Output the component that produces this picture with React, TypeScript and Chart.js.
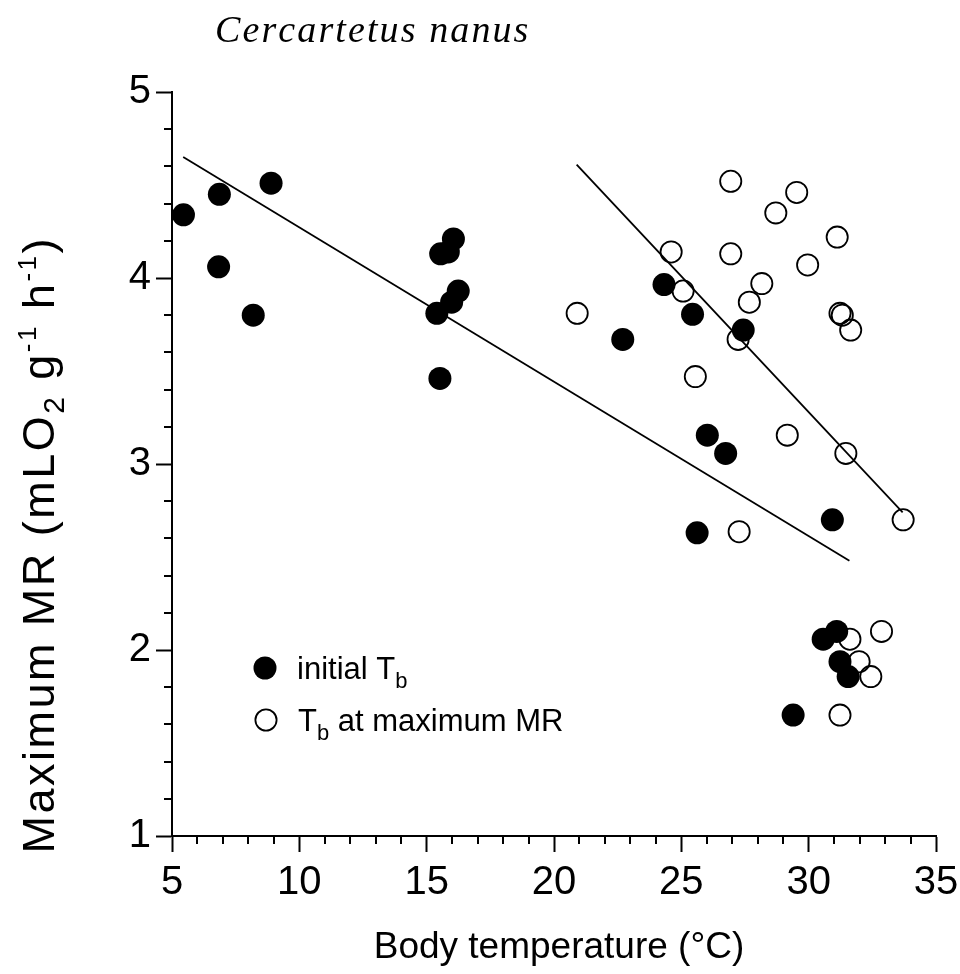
import { useEffect, useRef } from "react";
import { Chart, registerables } from "chart.js";

Chart.register(...registerables);

// Initial body temperature (°C) and maximum metabolic rate (mL O2 g-1 h-1)
const initialTb = [
  5.45, 6.86, 8.89, 6.83, 8.19, 15.55, 15.85, 16.05, 15.4, 15.98, 16.24, 15.52,
  24.32, 25.44, 22.7, 27.43, 26.02, 26.74, 25.62, 30.93, 30.57, 31.1, 31.23, 31.55, 29.39,
];
const initialMR = [
  4.34, 4.45, 4.51, 4.06, 3.8, 4.13, 4.14, 4.21, 3.81, 3.87, 3.93, 3.46,
  3.965, 3.805, 3.67, 3.72, 3.155, 3.057, 2.63, 2.7, 2.058, 2.1, 1.937, 1.857, 1.65,
];

// Body temperature reached at maximum MR
const maxMrTb = [
  26.94, 29.53, 28.71, 31.12, 24.6, 26.94, 29.96, 28.16, 25.07, 27.67, 20.91, 31.23,
  31.32, 31.65, 27.23, 25.55, 29.16, 31.46, 27.27, 33.71, 31.62, 32.86, 31.98, 32.44, 31.23,
];
const maxMrMR = [
  4.52, 4.46, 4.35, 4.22, 4.14, 4.13, 4.07, 3.97, 3.93, 3.87, 3.81, 3.81,
  3.8, 3.72, 3.67, 3.47, 3.155, 3.057, 2.636, 2.7, 2.058, 2.1, 1.937, 1.857, 1.65,
];

// Fitted regression lines (end points)
const fitInitialTb = [5.44, 31.6];
const fitInitialMR = [4.65, 2.48];
const fitMaxTb = [20.89, 33.69];
const fitMaxMR = [4.61, 2.74];

// Axis ranges and tick steps
const xRange = [5, 35];
const yRange = [1, 5];
const xMajorStep = 5;
const xMinorStep = 1;
const yMajorStep = 1;
const yMinorStep = 0.2;

const SANS = '"Liberation Sans", Arial, Helvetica, sans-serif';
const SERIF = '"Liberation Serif", "Times New Roman", serif';

type Seg = { text: string; size: number; dy: number };

function segWidth(ctx: CanvasRenderingContext2D, segs: Seg[]) {
  let w = 0;
  for (const s of segs) {
    ctx.font = `${s.size}px ${SANS}`;
    w += ctx.measureText(s.text).width;
  }
  return w;
}

function countChars(segs: Seg[]) {
  return segs.reduce((n, s) => n + s.text.length, 0);
}

function drawSegs(ctx: CanvasRenderingContext2D, segs: Seg[], x: number, y: number, spacing: number) {
  let cx = x;
  for (const s of segs) {
    ctx.font = `${s.size}px ${SANS}`;
    for (const ch of s.text) {
      ctx.fillText(ch, cx, y + s.dy);
      cx += ctx.measureText(ch).width + spacing;
    }
  }
}

const decor = {
  id: "decor",
  afterDraw(chart: any) {
    const { ctx, chartArea, scales } = chart;
    const xs = scales.x;
    const ys = scales.y;
    ctx.save();
    ctx.strokeStyle = "#000";
    ctx.fillStyle = "#000";
    ctx.lineWidth = 2;

    // minor tick marks
    ctx.beginPath();
    for (let v = xRange[0] + xMinorStep; v < xRange[1]; v += xMinorStep) {
      if (Math.abs(v / xMajorStep - Math.round(v / xMajorStep)) < 1e-6) continue;
      const px = Math.round(xs.getPixelForValue(v));
      ctx.moveTo(px, chartArea.bottom);
      ctx.lineTo(px, chartArea.bottom + 8);
    }
    const nMinor = Math.round((yRange[1] - yRange[0]) / yMinorStep);
    for (let k = 1; k < nMinor; k++) {
      const v = yRange[0] + k * yMinorStep;
      if (Math.abs(v / yMajorStep - Math.round(v / yMajorStep)) < 1e-6) continue;
      const py = Math.round(ys.getPixelForValue(v));
      ctx.moveTo(chartArea.left - 8, py);
      ctx.lineTo(chartArea.left, py);
    }
    ctx.stroke();

    // species title
    ctx.textBaseline = "alphabetic";
    ctx.textAlign = "left";
    const title = "Cercartetus nanus";
    ctx.font = `italic 38px ${SERIF}`;
    const tw = ctx.measureText(title).width;
    const tSpacing = (312 - tw) / (title.length - 1);
    let tx = 215;
    for (const ch of title) {
      ctx.fillText(ch, tx, 42);
      tx += ctx.measureText(ch).width + tSpacing;
    }

    // x-axis title
    ctx.font = `37px ${SANS}`;
    ctx.textAlign = "center";
    ctx.fillText("Body temperature (°C)", 559, 958);
    ctx.textAlign = "left";

    // y-axis title (rotated)
    const ySegs: Seg[] = [
      { text: "Maximum MR (mLO", size: 45, dy: 0 },
      { text: "2", size: 30, dy: 10 },
      { text: " g", size: 45, dy: 0 },
      { text: "-1", size: 26, dy: -18 },
      { text: " h", size: 45, dy: 0 },
      { text: "-1", size: 26, dy: -18 },
      { text: ")", size: 45, dy: 0 },
    ];
    const yTarget = 615;
    const yNat = segWidth(ctx, ySegs);
    const ySpacing = Math.max(0, (yTarget - yNat) / (countChars(ySegs) - 1));
    const yTotal = yNat + ySpacing * (countChars(ySegs) - 1);
    ctx.save();
    ctx.translate(54, 546);
    ctx.rotate(-Math.PI / 2);
    drawSegs(ctx, ySegs, -yTotal / 2, 0, ySpacing);
    ctx.restore();

    // legend
    ctx.beginPath();
    ctx.arc(265, 668, 11.5, 0, Math.PI * 2);
    ctx.fill();
    ctx.beginPath();
    ctx.lineWidth = 1.8;
    ctx.arc(266, 720, 10.6, 0, Math.PI * 2);
    ctx.stroke();
    drawSegs(ctx, [
      { text: "initial T", size: 31, dy: 0 },
      { text: "b", size: 22, dy: 9 },
    ], 297, 679, 0);
    drawSegs(ctx, [
      { text: "T", size: 31, dy: 0 },
      { text: "b", size: 22, dy: 9 },
      { text: " at maximum MR", size: 31, dy: 0 },
    ], 298, 731, 0);

    ctx.restore();
  },
};

export default function App() {
  const canvasRef = useRef<HTMLCanvasElement | null>(null);

  useEffect(() => {
    const canvas = canvasRef.current;
    if (!canvas) return;
    const tickFont = { family: SANS, size: 40 };
    const chart = new Chart(canvas, {
      type: "scatter",
      data: {
        datasets: [
          {
            label: "fit initial",
            data: fitInitialTb.map((x, i) => ({ x, y: fitInitialMR[i] })),
            showLine: true,
            borderColor: "#000",
            borderWidth: 1.8,
            pointRadius: 0,
            order: 1,
          },
          {
            label: "fit max",
            data: fitMaxTb.map((x, i) => ({ x, y: fitMaxMR[i] })),
            showLine: true,
            borderColor: "#000",
            borderWidth: 1.8,
            pointRadius: 0,
            order: 1,
          },
          {
            label: "initial Tb",
            data: initialTb.map((x, i) => ({ x, y: initialMR[i] })),
            pointRadius: 11.5,
            pointBackgroundColor: "#000",
            pointBorderColor: "#000",
            pointBorderWidth: 0,
            order: 2,
          },
          {
            label: "Tb at maximum MR",
            data: maxMrTb.map((x, i) => ({ x, y: maxMrMR[i] })),
            pointRadius: 10.6,
            pointBackgroundColor: "rgba(0,0,0,0)",
            pointBorderColor: "#000",
            pointBorderWidth: 1.8,
            order: 3,
          },
        ],
      },
      options: {
        animation: false,
        responsive: false,
        events: [],
        layout: { padding: { top: 92, right: 24, left: 0, bottom: 0 } },
        plugins: { legend: { display: false }, tooltip: { enabled: false }, title: { display: false } },
        scales: {
          x: {
            type: "linear",
            min: xRange[0],
            max: xRange[1],
            ticks: { stepSize: xMajorStep, color: "#000", font: tickFont, padding: 7 },
            grid: { drawOnChartArea: false, tickLength: 16, tickWidth: 2, tickColor: "#000" },
            border: { color: "#000", width: 2 },
            afterFit: (s: any) => {
              s.height = 138;
              s.paddingLeft = 0;
              s.paddingRight = 0;
            },
          },
          y: {
            type: "linear",
            min: yRange[0],
            max: yRange[1],
            ticks: { stepSize: yMajorStep, color: "#000", font: tickFont, padding: 5 },
            grid: { drawOnChartArea: false, tickLength: 16, tickWidth: 2, tickColor: "#000" },
            border: { color: "#000", width: 2 },
            afterFit: (s: any) => {
              s.width = 172;
              s.paddingTop = 0;
              s.paddingBottom = 0;
            },
          },
        },
      },
      plugins: [decor],
    });
    return () => chart.destroy();
  }, []);

  return (
    <div style={{ position: "absolute", left: 0, top: 0, width: 960, height: 974, background: "#fff" }}>
      <canvas ref={canvasRef} width={960} height={974} style={{ display: "block" }} />
    </div>
  );
}
